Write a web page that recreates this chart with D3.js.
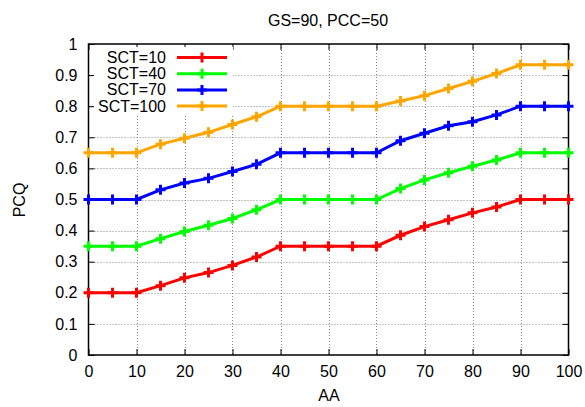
<!DOCTYPE html>
<html>
<head>
<meta charset="utf-8">
<script src="https://cdn.jsdelivr.net/npm/d3@7"></script>
<style>
  html, body { margin: 0; padding: 0; background: #fff; }
  svg { display: block; font-family: "Liberation Sans", Arial, sans-serif; }
</style>
</head>
<body>
<svg id="chart" width="585" height="407"></svg>
<script>
// AA values along the x axis
const aa = [0, 5, 10, 15, 20, 25, 30, 35, 40, 45, 50, 55, 60, 65, 70, 75, 80, 85, 90, 95, 100];

// PCQ for each SCT setting
const sct10  = [0.20, 0.20, 0.20, 0.223, 0.248, 0.265, 0.288, 0.315, 0.35, 0.35, 0.35, 0.35, 0.35, 0.385, 0.413, 0.435, 0.457, 0.476, 0.50, 0.50, 0.50];
const sct40  = [0.35, 0.35, 0.35, 0.374, 0.397, 0.417, 0.439, 0.467, 0.50, 0.50, 0.50, 0.50, 0.50, 0.535, 0.563, 0.586, 0.607, 0.627, 0.65, 0.65, 0.65];
const sct70  = [0.50, 0.50, 0.50, 0.531, 0.553, 0.568, 0.590, 0.613, 0.65, 0.65, 0.65, 0.65, 0.65, 0.689, 0.713, 0.737, 0.750, 0.772, 0.80, 0.80, 0.80];
const sct100 = [0.65, 0.65, 0.65, 0.678, 0.697, 0.716, 0.741, 0.766, 0.80, 0.80, 0.80, 0.80, 0.80, 0.817, 0.834, 0.857, 0.880, 0.905, 0.933, 0.933, 0.933];

const seriesNames = ["SCT=10", "SCT=40", "SCT=70", "SCT=100"];
const seriesColors = ["#ff0000", "#00ff00", "#0000ff", "#ffa500"];
const seriesValues = [sct10, sct40, sct70, sct100];

const xTicks = [0, 10, 20, 30, 40, 50, 60, 70, 80, 90, 100];
const yTicks = [0, 0.1, 0.2, 0.3, 0.4, 0.5, 0.6, 0.7, 0.8, 0.9, 1];

const titleText = "GS=90, PCC=50";
const xLabel = "AA";
const yLabel = "PCQ";

const fontSize = 16;
const svg = d3.select("#chart");
const plotL = 88.5, plotR = 568.5, plotT = 44, plotB = 355;

const x = d3.scaleLinear().domain([0, 100]).range([plotL, plotR]);
const y = d3.scaleLinear().domain([0, 1]).range([plotB, plotT]);

// grid
const grid = svg.append("g").attr("stroke", "#8a8a8a").attr("stroke-width", 1).attr("stroke-dasharray", "1,2");
grid.selectAll("line.gx").data(xTicks.slice(1, -1)).join("line")
  .attr("x1", d => Math.round(x(d)) + 0.5).attr("x2", d => Math.round(x(d)) + 0.5)
  .attr("y1", plotT).attr("y2", plotB);
grid.selectAll("line.gy").data(yTicks.slice(1, -1)).join("line")
  .attr("y1", d => Math.round(y(d)) + 0.5).attr("y2", d => Math.round(y(d)) + 0.5)
  .attr("x1", plotL).attr("x2", plotR);

// axes with inward ticks on all four sides
const fmtY = d => d === 0 ? "0" : d === 1 ? "1" : d3.format(".1f")(d);
const axB = svg.append("g").attr("transform", `translate(0,${plotB})`)
  .call(d3.axisBottom(x).tickValues(xTicks).tickSize(-6).tickPadding(11).tickFormat(d3.format("d")));
const axT = svg.append("g").attr("transform", `translate(0,${plotT})`)
  .call(d3.axisTop(x).tickValues(xTicks).tickSize(-6).tickFormat(""));
const axL = svg.append("g").attr("transform", `translate(${plotL},0)`)
  .call(d3.axisLeft(y).tickValues(yTicks).tickSize(-6).tickPadding(11).tickFormat(fmtY));
const axR = svg.append("g").attr("transform", `translate(${plotR},0)`)
  .call(d3.axisRight(y).tickValues(yTicks).tickSize(-6).tickFormat(""));
[axB, axT, axL, axR].forEach(a => {
  a.select(".domain").remove();
  a.selectAll(".tick line").attr("stroke", "#000").attr("stroke-width", 1);
  a.selectAll("text").attr("font-size", fontSize).attr("fill", "#000")
    .attr("font-family", "'Liberation Sans', Arial, sans-serif");
});

// frame
svg.append("rect").attr("x", plotL).attr("y", plotT).attr("width", plotR - plotL).attr("height", plotB - plotT)
  .attr("fill", "none").attr("stroke", "#000").attr("stroke-width", 1.5);

// legend background
svg.append("rect").attr("x", 94).attr("y", 47).attr("width", 139).attr("height", 67).attr("fill", "#fff");

// series
const line = d3.line().x((d, i) => x(aa[i])).y(d => y(d));
const plus = 5;
function drawPlus(g, cx, cy, color) {
  g.append("path")
    .attr("d", `M${cx - plus},${cy}H${cx + plus}M${cx},${cy - plus}V${cy + plus}`)
    .attr("stroke", color).attr("stroke-width", 3).attr("fill", "none");
}

seriesValues.forEach((vals, k) => {
  const g = svg.append("g");
  g.append("path").datum(vals).attr("d", line)
    .attr("fill", "none").attr("stroke", seriesColors[k]).attr("stroke-width", 3)
    .attr("stroke-linejoin", "miter");
  vals.forEach((v, i) => drawPlus(g, x(aa[i]), y(v), seriesColors[k]));
});

// legend entries
seriesNames.forEach((name, k) => {
  const cy = 57.5 + k * 16.2;
  const g = svg.append("g");
  g.append("text").attr("x", 166).attr("y", cy + 5.5).attr("text-anchor", "end")
    .attr("font-size", fontSize).text(name);
  g.append("line").attr("x1", 177).attr("x2", 227).attr("y1", cy).attr("y2", cy)
    .attr("stroke", seriesColors[k]).attr("stroke-width", 3);
  drawPlus(g, 202, cy, seriesColors[k]);
});

// title and axis labels
svg.append("text").attr("x", 328).attr("y", 26).attr("text-anchor", "middle").attr("font-size", fontSize).text(titleText);
svg.append("text").attr("x", 329).attr("y", 401).attr("text-anchor", "middle").attr("font-size", fontSize).text(xLabel);
svg.append("text").attr("transform", "translate(25,200) rotate(-90)").attr("text-anchor", "middle")
  .attr("font-size", fontSize).text(yLabel);
</script>
</body>
</html>
